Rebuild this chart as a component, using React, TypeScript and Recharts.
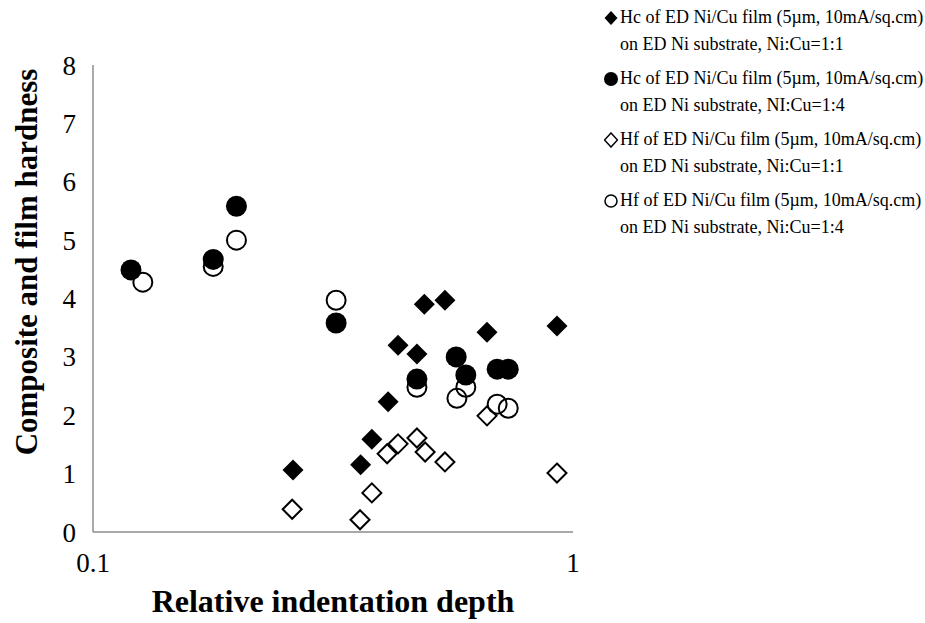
import React from 'react';
import { ScatterChart, Scatter, XAxis, YAxis, Legend } from 'recharts';

// relative indentation depth / hardness
const hcX11 = [0.261, 0.361, 0.381, 0.412, 0.432, 0.473, 0.49, 0.541, 0.662, 0.926];
const hcY11 = [1.06, 1.15, 1.59, 2.23, 3.2, 3.05, 3.9, 3.97, 3.42, 3.53];

const hcX14 = [0.12, 0.178, 0.199, 0.321, 0.473, 0.571, 0.598, 0.695, 0.733];
const hcY14 = [4.49, 4.67, 5.58, 3.58, 2.62, 3.0, 2.69, 2.79, 2.79];

const hfX11 = [0.26, 0.36, 0.381, 0.41, 0.432, 0.473, 0.492, 0.541, 0.662, 0.926];
const hfY11 = [0.39, 0.21, 0.67, 1.34, 1.51, 1.61, 1.37, 1.2, 1.99, 1.01];

const hfX14 = [0.127, 0.178, 0.199, 0.321, 0.473, 0.573, 0.598, 0.695, 0.733];
const hfY14 = [4.28, 4.55, 5.0, 3.97, 2.48, 2.29, 2.48, 2.19, 2.12];

const xTicks = [0.1, 1];
const yTicks = [0, 1, 2, 3, 4, 5, 6, 7, 8];

const legendLines = [
  ['Hc of ED Ni/Cu film (5\u00b5m, 10mA/sq.cm)', 'on ED Ni substrate, Ni:Cu=1:1'],
  ['Hc of ED Ni/Cu film (5\u00b5m, 10mA/sq.cm)', 'on ED Ni substrate, NI:Cu=1:4'],
  ['Hf of ED Ni/Cu film (5\u00b5m, 10mA/sq.cm)', 'on ED Ni substrate, Ni:Cu=1:1'],
  ['Hf of ED Ni/Cu film (5\u00b5m, 10mA/sq.cm)', 'on ED Ni substrate, Ni:Cu=1:4'],
];

const toPoints = (xs: number[], ys: number[]) => xs.map((x, i) => ({ x, y: ys[i] }));

const FONT = '"Liberation Serif", "Times New Roman", serif';

type Kind = 'diamond' | 'circle';

const Marker = ({ cx, cy, kind, filled }: { cx: number; cy: number; kind: Kind; filled: boolean }) => {
  const fill = filled ? '#000' : 'none';
  const sw = filled ? 0 : 2;
  if (kind === 'circle') {
    const r = filled ? 10.5 : 9.5;
    return <circle cx={cx} cy={cy} r={r} fill={fill} stroke="#000" strokeWidth={sw} />;
  }
  const h = filled ? 10.5 : 9.5;
  return (
    <polygon
      points={`${cx},${cy - h} ${cx + h},${cy} ${cx},${cy + h} ${cx - h},${cy}`}
      fill={fill}
      stroke="#000"
      strokeWidth={sw}
    />
  );
};

const series = [
  { name: 'hc11', data: toPoints(hcX11, hcY11), kind: 'diamond' as Kind, filled: true },
  { name: 'hc14', data: toPoints(hcX14, hcY14), kind: 'circle' as Kind, filled: true },
  { name: 'hf11', data: toPoints(hfX11, hfY11), kind: 'diamond' as Kind, filled: false },
  { name: 'hf14', data: toPoints(hfX14, hfY14), kind: 'circle' as Kind, filled: false },
];

const LegendBox = () => (
  <div style={{ fontFamily: FONT, fontSize: 18, color: '#000', lineHeight: '27px', whiteSpace: 'nowrap' }}>
    {series.map((s, i) => (
      <div key={s.name} style={{ marginBottom: 7 }}>
        <div style={{ display: 'flex', alignItems: 'center' }}>
          <svg width={14} height={16} style={{ marginRight: 2 }}>
            {s.kind === 'circle' ? (
              <circle cx={7} cy={8} r={s.filled ? 7 : 6} fill={s.filled ? '#000' : 'none'} stroke="#000" strokeWidth={s.filled ? 0 : 1.5} />
            ) : (
              <polygon points="7,1 13.5,8 7,15 0.5,8" fill={s.filled ? '#000' : 'none'} stroke="#000" strokeWidth={s.filled ? 0 : 1.5} />
            )}
          </svg>
          <span>{legendLines[i][0]}</span>
        </div>
        <div style={{ paddingLeft: 16 }}>{legendLines[i][1]}</div>
      </div>
    ))}
  </div>
);

const YTitle = () => (
  <text
    x={26}
    y={262}
    transform="rotate(-90 26 262)"
    textAnchor="middle"
    dominantBaseline="central"
    style={{ fontFamily: FONT, fontSize: 31, fontWeight: 'bold', fill: '#000' }}
  >
    Composite and film hardness
  </text>
);

export default function App() {
  return (
    <div style={{ width: 925, height: 623, background: '#fff' }}>
      <style>{'body{margin:0}'}</style>
      <ScatterChart width={925} height={623} margin={{ top: 65, right: 352, left: 5, bottom: 31 }}>
        <XAxis
          type="number"
          dataKey="x"
          scale="log"
          domain={[0.1, 1]}
          ticks={xTicks}
          allowDataOverflow
          height={60}
          axisLine={{ stroke: '#8c8c8c', strokeWidth: 1.5 }}
          tickLine={false}
          tickSize={0}
          tickMargin={21}
          tick={{ fill: '#000', fontSize: 27, fontFamily: FONT }}
          label={{
            value: 'Relative indentation depth',
            position: 'bottom',
            offset: -3,
            style: { fontFamily: FONT, fontSize: 32, fontWeight: 'bold', fill: '#000' },
          }}
        />
        <YAxis
          type="number"
          dataKey="y"
          domain={[0, 8]}
          ticks={yTicks}
          width={88}
          axisLine={{ stroke: '#8c8c8c', strokeWidth: 1.5 }}
          tickLine={false}
          tickSize={0}
          tickMargin={17}
          tick={{ fill: '#000', fontSize: 27, fontFamily: FONT }}
          label={{ content: () => <YTitle /> }}
        />
        <Legend
          layout="vertical"
          align="center"
          verticalAlign="middle"
          content={() => <LegendBox />}
          wrapperStyle={{ left: 604, top: 4, width: 321, bottom: 'auto', right: 'auto' }}
        />
        {series.map((s) => (
          <Scatter
            key={s.name}
            name={s.name}
            data={s.data}
            isAnimationActive={false}
            shape={(p: any) => <Marker cx={p.cx} cy={p.cy} kind={s.kind} filled={s.filled} />}
          />
        ))}
      </ScatterChart>
    </div>
  );
}
